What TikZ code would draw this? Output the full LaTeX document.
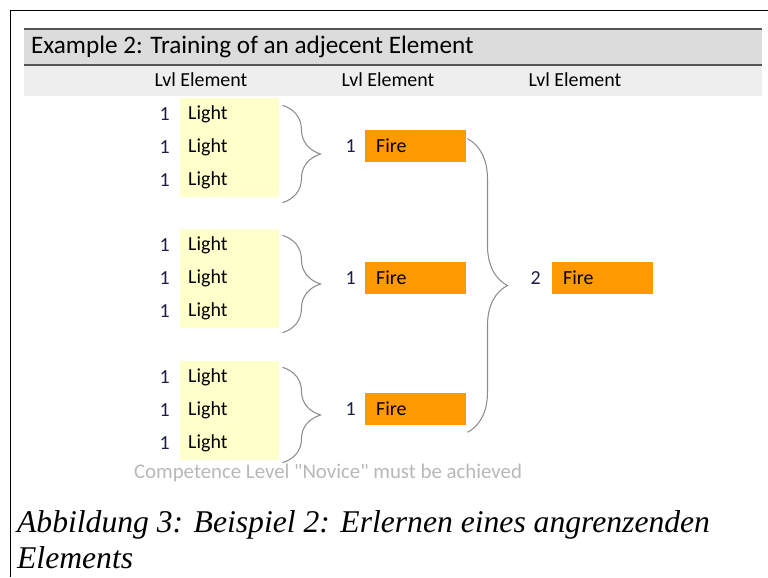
\documentclass[tikz,border=0pt]{standalone}
\usepackage{fontspec}
\setmainfont{Carlito}
\newfontfamily\notefont{Carlito}
\newfontfamily\capfont{Liberation Serif}
\usetikzlibrary{positioning,calc,decorations.pathreplacing}
\definecolor{bandgrey}{HTML}{DCDCDC}
\definecolor{subgrey}{HTML}{EEEEEE}
\definecolor{rulegrey}{HTML}{555555}
\definecolor{lightyellow}{HTML}{FFFFCC}
\definecolor{fireorange}{HTML}{FF9900}
\definecolor{bracegrey}{HTML}{8C8C8C}
\definecolor{notegrey}{HTML}{B8B8B8}
\definecolor{lvlblue}{HTML}{1C1C4A}

\begin{document}
\begin{tikzpicture}[x = 0.03cm, y = -0.03cm,
    lightbox/.style = {fill = lightyellow, anchor = west, minimum height = 0.99cm, text width = 2.49cm, inner xsep = 0.24cm, inner ysep = 0pt, font = \fontsize{17}{17}\selectfont},
    firebox/.style = {fill = fireorange, anchor = west, minimum height = 0.96cm, text width = 2.37cm, inner xsep = 0.33cm, inner ysep = 0pt, font = \fontsize{17}{17}\selectfont},
    lvl/.style = {text = lvlblue, inner sep = 0pt, font = \fontsize{17}{17}\selectfont},
    heading/.style = {font = \fontsize{17}{17}\selectfont},
    brace/.style = {decorate, draw = bracegrey, line width = 0.9pt},
    caption/.style = {anchor = base west, font = \capfont\itshape\fontsize{27}{27}\selectfont}]
    \useasboundingbox (0, 0) rectangle (768, 577);
    \draw[line width = 0.8pt] (10, 577) -- (10, 10) -- (768, 10);
    \fill[bandgrey] (24, 29) rectangle (762, 65);
    \fill[subgrey] (24, 65) rectangle (762, 96);
    \draw[rulegrey, line width = 1.7pt] (24, 29) -- (762, 29);
    \draw[rulegrey, line width = 1.7pt] (24, 65) -- (762, 65);
    \node[anchor = west, font = \fontsize{21.5}{21.5}\selectfont] (title) at (27, 47) {Example 2: Training of an adjecent Element};
    \node[heading] (heading 1) at (201, 80) {Lvl Element};
    \node[heading] (heading 2) at (388, 80) {Lvl Element};
    \node[heading] (heading 3) at (575, 80) {Lvl Element};
    \node[lightbox] (light 11) at (180, 114) {Light};
    \node[lightbox] (light 12) at (180, 147) {Light};
    \node[lightbox] (light 13) at (180, 180) {Light};
    \node[lightbox] (light 21) at (180, 245) {Light};
    \node[lightbox] (light 22) at (180, 278) {Light};
    \node[lightbox] (light 23) at (180, 311) {Light};
    \node[lightbox] (light 31) at (180, 377) {Light};
    \node[lightbox] (light 32) at (180, 410) {Light};
    \node[lightbox] (light 33) at (180, 443) {Light};
    \node[lvl, left = 0.3cm of light 11] (lvl 11) {1};
    \node[lvl, left = 0.3cm of light 12] (lvl 12) {1};
    \node[lvl, left = 0.3cm of light 13] (lvl 13) {1};
    \node[lvl, left = 0.3cm of light 21] (lvl 21) {1};
    \node[lvl, left = 0.3cm of light 22] (lvl 22) {1};
    \node[lvl, left = 0.3cm of light 23] (lvl 23) {1};
    \node[lvl, left = 0.3cm of light 31] (lvl 31) {1};
    \node[lvl, left = 0.3cm of light 32] (lvl 32) {1};
    \node[lvl, left = 0.3cm of light 33] (lvl 33) {1};
    \node[firebox] (fire 1) at (365, 146) {Fire};
    \node[firebox] (fire 2) at (365, 278) {Fire};
    \node[firebox] (fire 3) at (365, 409) {Fire};
    \node[firebox] (fire 4) at (552, 278) {Fire};
    \node[lvl, left = 0.27cm of fire 1] (lvl fire 1) {1};
    \node[lvl, left = 0.27cm of fire 2] (lvl fire 2) {1};
    \node[lvl, left = 0.27cm of fire 3] (lvl fire 3) {1};
    \node[lvl, left = 0.33cm of fire 4] (lvl fire 4) {2};
    \draw[brace, decoration = {brace, amplitude = 1.14cm}] ($(light 11.north east) + (3, 8)$) -- ($(light 13.south east) + (3, 6)$);
    \draw[brace, decoration = {brace, amplitude = 1.14cm}] ($(light 21.north east) + (3, 7)$) -- ($(light 23.south east) + (3, 5)$);
    \draw[brace, decoration = {brace, amplitude = 1.14cm}] ($(light 31.north east) + (3, 7)$) -- ($(light 33.south east) + (3, 3)$);
    \draw[brace, decoration = {brace, amplitude = 1.2cm}] ($(fire 1.north east) + (1, 9)$) -- ($(fire 3.south east) + (1, 7)$);
    \node[text = notegrey, font = \notefont\fontsize{17.8}{17.8}\selectfont] (note) at (328, 473) {Competence Level "Novice" must be achieved};
    \node[caption] (caption 1) at (13, 532) {Abbildung 3: Beispiel 2: Erlernen eines angrenzenden};
    \node[caption] (caption 2) at (13, 568) {Elements};
  \end{tikzpicture}
\end{document}
